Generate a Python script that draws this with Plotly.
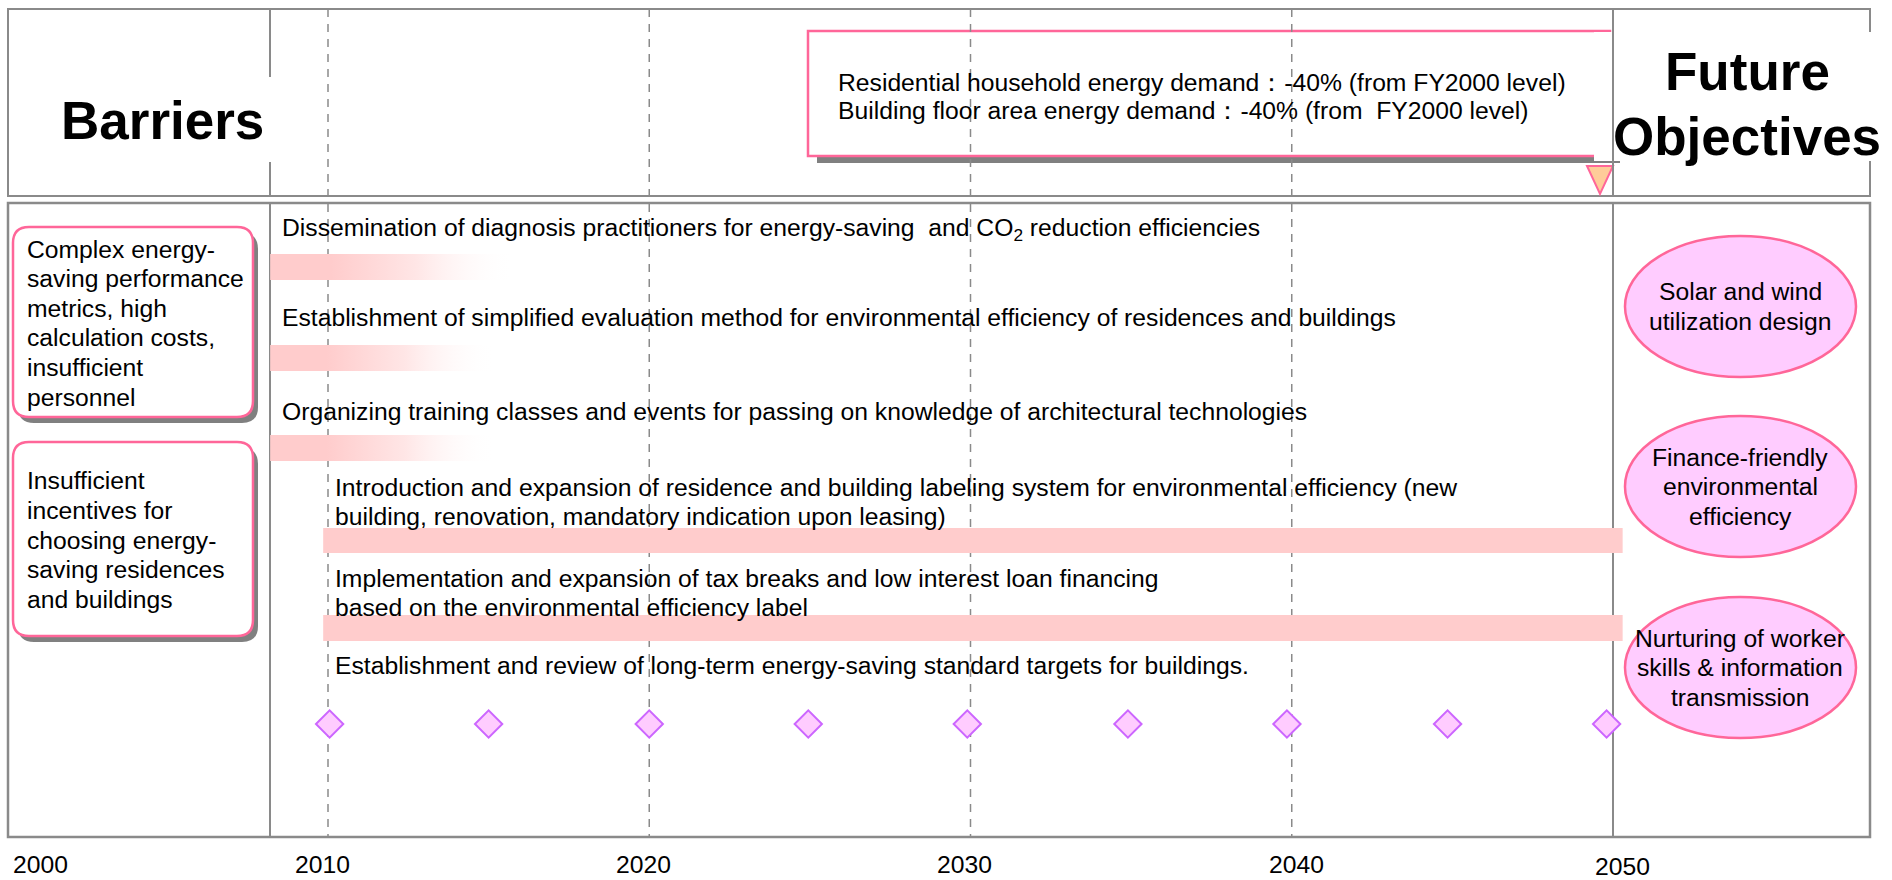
import plotly.graph_objects as go

W, H = 1892, 880

# timeline values
decade_years = [2010, 2020, 2030, 2040]
label_years = [2000, 2010, 2020, 2030, 2040, 2050]
milestone_years = [2010.05, 2015.0, 2020.0, 2024.95, 2029.9, 2034.9, 2039.85, 2044.85, 2049.8]
target_year = 2050

measures = [
    ["Dissemination of diagnosis practitioners for energy-saving \u00a0and CO<sub>2</sub> reduction efficiencies"],
    ["Establishment of simplified evaluation method for environmental efficiency of residences and buildings"],
    ["Organizing training classes and events for passing on knowledge of architectural technologies"],
    ["Introduction and expansion of residence and building labeling system for environmental efficiency (new",
     "building, renovation, mandatory indication upon leasing)"],
    ["Implementation and expansion of tax breaks and low interest loan financing",
     "based on the environmental efficiency label"],
    ["Establishment and review of long-term energy-saving standard targets for buildings."],
]
bar_start = [2008.2, 2008.2, 2008.2, 2009.85, 2009.85]
bar_end = [2015.8, 2015.2, 2015.2, 2050.3, 2050.3]
bar_fades = [True, True, True, False, False]

barriers = [
    ["Complex energy-", "saving performance", "metrics, high", "calculation costs,",
     "insufficient", "personnel"],
    ["Insufficient", "incentives for", "choosing energy-", "saving residences", "and buildings"],
]
objectives = [
    ["Solar and wind", "utilization design"],
    ["Finance-friendly", "environmental", "efficiency"],
    ["Nurturing of worker", "skills & information", "transmission"],
]
targets = [
    "Residential household energy demand\uff1a-40% (from FY2000 level)",
    "Building floor area energy demand\uff1a-40% (from \u00a0FY2000 level)",
]

GRAY = "#8a8a8a"
PINK = "#ff6699"
BAR = "#ffcccc"
FONT = "Liberation Sans, Arial, sans-serif"
FS = 24.7

px_per_year = 32.125
x_lo = 2000 - 6.75 / px_per_year
x_hi = x_lo + W / px_per_year


def X(p):
    return p / W


def vline(x, y0, y1, ref="paper", dash="solid", width=2):
    xx = X(x) if ref == "paper" else x
    return dict(type="line", xref=ref, yref="y", x0=xx, x1=xx, y0=y0, y1=y1,
                line=dict(color=GRAY, width=width, dash=dash), layer="below")


def rect(x0, y0, x1, y1, fill, line_color=None, lw=0):
    return dict(type="rect", xref="paper", yref="y", x0=X(x0), x1=X(x1), y0=y0, y1=y1,
                fillcolor=fill, line=dict(color=line_color or fill, width=lw), layer="below")


def rounded(x0, y0, x1, y1, r, fill, line_color=None, lw=0):
    path = (f"M {X(x0 + r)},{y0} L {X(x1 - r)},{y0} Q {X(x1)},{y0} {X(x1)},{y0 + r} "
            f"L {X(x1)},{y1 - r} Q {X(x1)},{y1} {X(x1 - r)},{y1} "
            f"L {X(x0 + r)},{y1} Q {X(x0)},{y1} {X(x0)},{y1 - r} "
            f"L {X(x0)},{y0 + r} Q {X(x0)},{y0} {X(x0 + r)},{y0} Z")
    return dict(type="path", xref="paper", yref="y", path=path, fillcolor=fill,
                line=dict(color=line_color or fill, width=lw), layer="below")


shapes = []
# frames
shapes.append(rect(8, 9, 1870, 196, "rgba(0,0,0,0)", GRAY, 2))
shapes.append(rect(8, 203, 1870, 837, "rgba(0,0,0,0)", GRAY, 2.5))
for y0, y1 in [(9, 196), (203, 837)]:
    shapes.append(vline(270, y0, y1))
    shapes.append(vline(target_year, y0, y1, ref="x"))
for yr in decade_years:
    shapes.append(vline(yr, 9, 837, ref="x", dash="8px,7px", width=1.5))

# target box
shapes.append(rect(817, 38, 1620, 163, "#808080"))
shapes.append(rect(808, 31, 1610, 156, "white", PINK, 2.5))

# white covers behind headings
shapes.append(rect(55, 77, 285, 162, "white"))
shapes.append(rect(1594, 32, 1892, 161, "white"))

# arrow to 2050
shapes.append(dict(type="path", xref="paper", yref="y",
                   path=f"M {X(1587)},166 L {X(1613)},166 L {X(1600)},194 Z",
                   fillcolor="#ffcc99", line=dict(color=PINK, width=2), layer="below"))

# barrier boxes
box_y = [(227, 417), (442, 636)]
for y0, y1 in box_y:
    shapes.append(rounded(18, y0 + 6, 258, y1 + 6, 16, "#808080"))
    shapes.append(rounded(13, y0, 253, y1, 16, "white", PINK, 2.5))

# objective ellipses
ell_y = [(236, 377), (416, 557), (597, 738)]
for y0, y1 in ell_y:
    shapes.append(dict(type="circle", xref="paper", yref="y", x0=X(1625), x1=X(1856),
                       y0=y0, y1=y1, fillcolor="#ffccff", line=dict(color=PINK, width=2.5),
                       layer="below"))

fig = go.Figure()

bar_rows = [(254, 280), (345, 371), (435, 461), (528, 553), (615, 641)]
for (y0, y1), xs, xe, fade in zip(bar_rows, bar_start, bar_end, bar_fades):
    kw = dict(fillcolor=BAR)
    if fade:
        kw = dict(fillgradient=dict(type="horizontal",
                                    colorscale=[[0, BAR], [0.25, BAR], [0.6, "#ffe6e6"],
                                                [1, "rgba(255,255,255,0)"]],
                                    start=xs, stop=xe))
    fig.add_trace(go.Scatter(x=[xs, xe, xe, xs, xs], y=[y0, y0, y1, y1, y0], mode="lines",
                             fill="toself", line=dict(width=0), hoverinfo="skip", **kw))

fig.add_trace(go.Scatter(x=milestone_years, y=[724] * len(milestone_years), mode="markers",
                         marker=dict(symbol="diamond", size=21, color="#ffccff",
                                     line=dict(color="#cc66ff", width=2)),
                         hoverinfo="skip"))

ann = []


def text(x, y, lines, size=FS, xref="paper", anchor="left", bold=False, shift=0, gap=29.4):
    # one annotation per line so the line spacing can follow the original
    if isinstance(lines, str):
        lines = [lines]
    top = y - gap * (len(lines) - 1) / 2
    for i, t in enumerate(lines):
        ann.append(dict(x=X(x) if xref == "paper" else x, y=top + i * gap, xref=xref, yref="y",
                        text=t, showarrow=False, xanchor=anchor, yanchor="middle", xshift=shift,
                        font=dict(family=FONT, size=size, color="black",
                                  weight="bold" if bold else "normal")))


text(162, 120, "Barriers", size=53, anchor="center", bold=True)
text(1747, 104, ["Future", "Objectives"], size=53, anchor="center", bold=True, gap=65)
text(836, 96, targets, gap=28)

measure_y = [229, 317, 411, 502, 593, 665]
measure_x = bar_start + [2009.85]
for t, xs, y in zip(measures, measure_x, measure_y):
    text(xs, y, t, xref="x", shift=10, gap=29)

for t, y in zip(barriers, [323, 540]):
    text(25, y, t, gap=29.6)

for t, (y0, y1) in zip(objectives, ell_y):
    text(1740, (y0 + y1) / 2, t, anchor="center", gap=29.5)

label_nudge = {2000: 34, 2040: 5, 2050: 9}
for yr in label_years:
    ann.append(dict(x=yr, y=866 if yr == 2050 else 864, xref="x", yref="y", text=str(yr),
                    showarrow=False, xanchor="center", yanchor="middle",
                    xshift=label_nudge.get(yr, -6),
                    font=dict(family=FONT, size=FS, color="black")))

fig.update_layout(
    width=W, height=H,
    margin=dict(l=0, r=0, t=0, b=0),
    paper_bgcolor="white", plot_bgcolor="white",
    showlegend=False,
    shapes=shapes, annotations=ann,
    xaxis=dict(range=[x_lo, x_hi], visible=False, fixedrange=True),
    yaxis=dict(range=[H, 0], visible=False, fixedrange=True),
)

fig.write_html("out.html", config=dict(displayModeBar=False),
               post_script="document.body.style.margin = '0';")
